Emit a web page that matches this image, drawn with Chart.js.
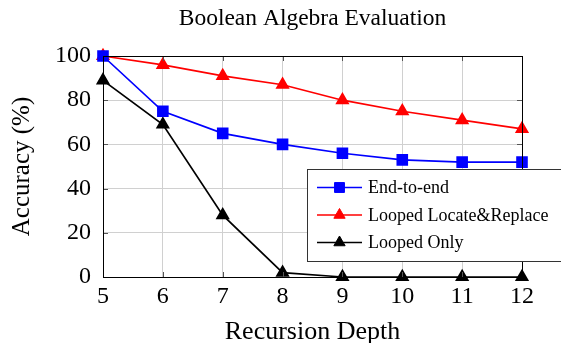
<!DOCTYPE html>
<html><head><meta charset="utf-8">
<script src="https://cdn.jsdelivr.net/npm/chart.js@4"></script>
<style>html,body{margin:0;padding:0;background:#fff}#wrap{width:561px;height:343px}</style>
</head><body><div id="wrap"><canvas id="c" width="561" height="343"></canvas></div>
<script>
const chartTitle = "Boolean Algebra Evaluation";
const depths = ["5","6","7","8","9","10","11","12"];
const endToEnd = [100, 75, 65, 60, 56, 53, 52, 52];
const loopedLocateReplace = [100, 96, 91, 87, 80, 75, 71, 67];
const loopedOnly = [89, 69, 28, 2, 0, 0, 0, 0];
const yTicks = [0, 20, 40, 60, 80, 100];
const seriesNames = ["End-to-end", "Looped Locate&Replace", "Looped Only"];

const SERIF = "'Liberation Serif','Times New Roman',serif";

const frameAndLegend = {
  id: 'frameAndLegend',
  afterDatasetsDraw(chart) {
    const {ctx, chartArea: a} = chart;
    ctx.save();
    // inward tick marks
    ctx.strokeStyle = '#555';
    ctx.lineWidth = 1;
    const xs = chart.scales.x, ys = chart.scales.y;
    const tl = 5;
    xs.ticks.forEach((t, i) => {
      const px = Math.round(xs.getPixelForTick(i)) + 0.5;
      ctx.beginPath();
      ctx.moveTo(px, a.bottom); ctx.lineTo(px, a.bottom - tl);
      ctx.moveTo(px, a.top); ctx.lineTo(px, a.top + tl);
      ctx.stroke();
    });
    ys.ticks.forEach((t, i) => {
      const py = Math.round(ys.getPixelForTick(i)) + 0.5;
      ctx.beginPath();
      ctx.moveTo(a.left, py); ctx.lineTo(a.left + tl, py);
      ctx.moveTo(a.right, py); ctx.lineTo(a.right - tl, py);
      ctx.stroke();
    });
    ctx.strokeStyle = '#000';
    ctx.strokeRect(a.left + 0.5, a.top + 0.5, a.right - a.left, a.bottom - a.top);
    // title centred over the plot
    ctx.fillStyle = '#000';
    ctx.font = '23.5px ' + SERIF;
    ctx.textAlign = 'center';
    ctx.textBaseline = 'middle';
    ctx.fillText(chartTitle, (a.left + a.right) / 2, 19);
    ctx.restore();
  },
  afterDraw(chart) {
    const {ctx} = chart;
    ctx.save();
    const lx = 307.5, ly = 169.5, lw = 260, lh = 92;
    ctx.fillStyle = '#fff';
    ctx.fillRect(lx, ly, lw, lh);
    ctx.strokeStyle = '#333';
    ctx.lineWidth = 1;
    ctx.strokeRect(lx, ly, lw, lh);
    const rows = [187.5, 215, 242.5];
    chart.data.datasets.forEach((ds, i) => {
      const y = rows[i];
      ctx.strokeStyle = ds.borderColor;
      ctx.lineWidth = 1.6;
      ctx.beginPath(); ctx.moveTo(317, y); ctx.lineTo(362, y); ctx.stroke();
      ctx.fillStyle = ds.pointBackgroundColor;
      ctx.strokeStyle = ds.pointBorderColor;
      ctx.lineWidth = 1;
      Chart.helpers.drawPoint(ctx, {pointStyle: ds.pointStyle, radius: ds.pointRadius, borderWidth: 1}, 339.5, y);
      ctx.fillStyle = '#000';
      ctx.font = '18px ' + SERIF;
      ctx.textBaseline = 'middle';
      ctx.textAlign = 'left';
      ctx.fillText(ds.label, 368, y + 1);
    });
    ctx.restore();
  }
};

function series(label, data, color, style, r) {
  return {label, data, borderColor: color, backgroundColor: color,
    pointBackgroundColor: color, pointBorderColor: color, borderWidth: 1.7,
    pointStyle: style, pointRadius: r, pointHoverRadius: r, tension: 0, clip: false};
}

new Chart(document.getElementById('c'), {
  type: 'line',
  data: {
    labels: depths,
    datasets: [
      series(seriesNames[0], endToEnd, '#0000ff', 'rect', 7),
      series(seriesNames[1], loopedLocateReplace, '#ff0000', 'triangle', 6.5),
      series(seriesNames[2], loopedOnly, '#000000', 'triangle', 6.5)
    ]
  },
  options: {
    responsive: false, animation: false, devicePixelRatio: 1,
    layout: {padding: {left: 0, right: 39, top: 56, bottom: 0}},
    plugins: {
      legend: {display: false}, tooltip: {enabled: false}, title: {display: false}
    },
    scales: {
      x: {
        offset: false,
        grid: {color: '#d0d0d0', drawTicks: false, lineWidth: 1},
        border: {color: '#000'},
        ticks: {color: '#000', font: {family: SERIF, size: 24, lineHeight: 1.2}, padding: 5, maxRotation: 0, autoSkip: false},
        title: {display: true, text: 'Recursion Depth', color: '#000', font: {family: SERIF, size: 26, lineHeight: 1}, padding: {top: 0, bottom: -2}},
        afterFit(s) { s.height = 66; }
      },
      y: {
        min: 0, max: 100,
        afterBuildTicks(s) { s.ticks = yTicks.map(v => ({value: v})); },
        grid: {color: '#d0d0d0', drawTicks: false, lineWidth: 1},
        border: {color: '#000'},
        ticks: {color: '#000', font: {family: SERIF, size: 24}, padding: 12},
        title: {display: true, text: 'Accuracy (%)', color: '#000', font: {family: SERIF, size: 25, lineHeight: 1}, padding: {top: 10, bottom: 0}},
        afterFit(s) { s.width = 103; }
      }
    }
  },
  plugins: [frameAndLegend]
});
</script>
</body></html>
